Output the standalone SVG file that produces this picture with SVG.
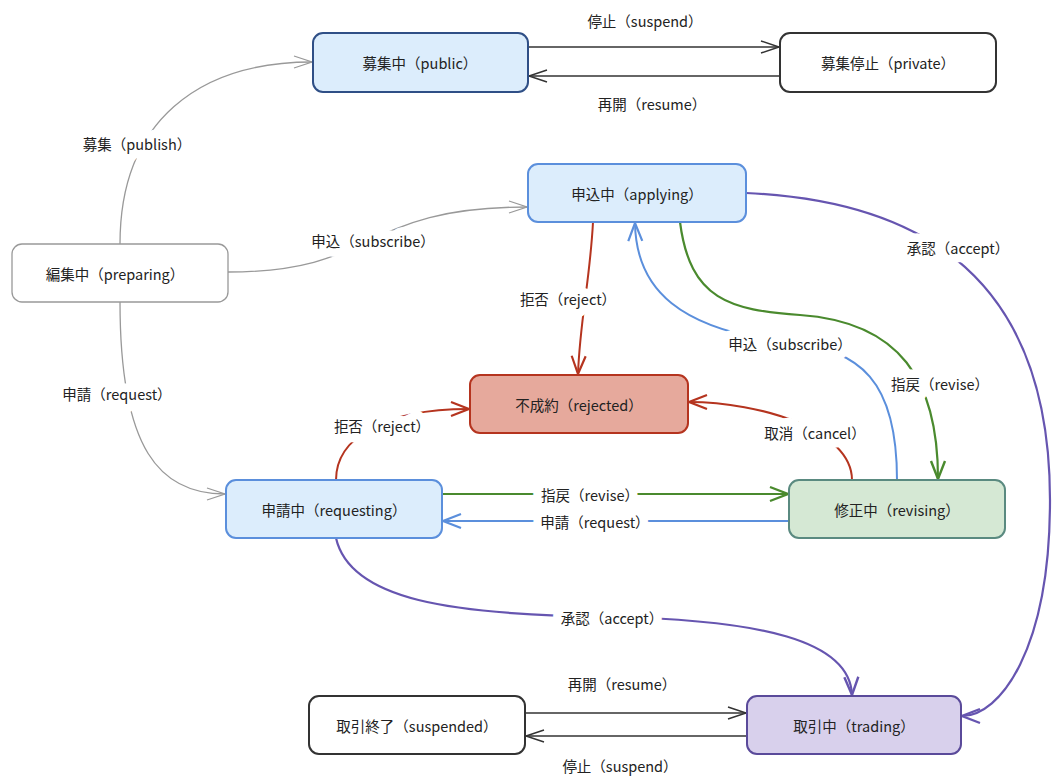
<svg xmlns="http://www.w3.org/2000/svg" width="1057" height="776" viewBox="0 0 1057 776">
<style>
text{font-family:"Noto Sans CJK JP","Noto Sans",sans-serif;font-size:14.5px;fill:#222;text-anchor:middle;dominant-baseline:central}
.lbl{paint-order:stroke;stroke:#fff;stroke-width:17px;stroke-linejoin:round}
.e{fill:none}
.g{stroke:#999;stroke-width:1.3}
.k{stroke:#333;stroke-width:1.5}
.r{stroke:#b5341f;stroke-width:2}
.b{stroke:#5b8fdc;stroke-width:2}
.gr{stroke:#4a8a2e;stroke-width:2.2}
.p{stroke:#6655b0;stroke-width:2.2}
rect{rx:10;ry:10}
</style>
<defs>
<marker id="ag" markerUnits="userSpaceOnUse" markerWidth="24" markerHeight="24" refX="20" refY="12" orient="auto"><path d="M2,6 L20,12 L2,18" fill="none" stroke="#999" stroke-width="1.3"/></marker>
<marker id="ak" markerUnits="userSpaceOnUse" markerWidth="24" markerHeight="24" refX="20" refY="12" orient="auto"><path d="M2,6 L20,12 L2,18" fill="none" stroke="#333" stroke-width="1.5"/></marker>
<marker id="ar" markerUnits="userSpaceOnUse" markerWidth="24" markerHeight="24" refX="20" refY="12" orient="auto"><path d="M2,5 L20,12 L2,19" fill="none" stroke="#b5341f" stroke-width="2.2"/></marker>
<marker id="ab" markerUnits="userSpaceOnUse" markerWidth="24" markerHeight="24" refX="20" refY="12" orient="auto"><path d="M2,5 L20,12 L2,19" fill="none" stroke="#5b8fdc" stroke-width="2.2"/></marker>
<marker id="agr" markerUnits="userSpaceOnUse" markerWidth="24" markerHeight="24" refX="20" refY="12" orient="auto"><path d="M2,5 L20,12 L2,19" fill="none" stroke="#4a8a2e" stroke-width="2.4"/></marker>
<marker id="ap" markerUnits="userSpaceOnUse" markerWidth="24" markerHeight="24" refX="20" refY="12" orient="auto"><path d="M2,5 L20,12 L2,19" fill="none" stroke="#6655b0" stroke-width="2.4"/></marker>
</defs>
<rect x="0" y="0" width="1057" height="776" fill="#fff" rx="0" ry="0"/>
<g id="connectors">
<path class="e g" d="M120,244 C120,120 200,62 312,62" marker-end="url(#ag)"/>
<path class="e g" d="M228,272 C380,272 360,207 527,207" marker-end="url(#ag)"/>
<path class="e g" d="M120,302 C120,450 160,494 225,494" marker-end="url(#ag)"/>
<path class="e k" d="M528,47 L779,47" marker-end="url(#ak)"/>
<path class="e k" d="M780,76 L529,76" marker-end="url(#ak)"/>
<path class="e r" d="M593,222 C590,280 580,320 578,374" marker-end="url(#ar)"/>
<path class="e b" d="M897,480 C897,380 860,350 790,343 C680,330 636,290 635,223" marker-end="url(#ab)"/>
<path class="e gr" d="M680,222 C690,300 730,310 800,315 C900,322 938,380 938,479" marker-end="url(#agr)"/>
<path class="e p" d="M746,193 C900,200 1050,260 1050,500 C1050,650 1000,716 962,716" marker-end="url(#ap)"/>
<path class="e r" d="M336,480 C336,440 380,409 469,409" marker-end="url(#ar)"/>
<path class="e r" d="M852,480 C852,430 760,402 689,402" marker-end="url(#ar)"/>
<path class="e gr" d="M442,494 L788,494" marker-end="url(#agr)"/>
<path class="e b" d="M789,521 L443,521" marker-end="url(#ab)"/>
<path class="e p" d="M336,538 C350,600 450,615 612,617 C760,620 850,640 852,695" marker-end="url(#ap)"/>
<path class="e k" d="M747,736 L526,736" marker-end="url(#ak)"/>
<path class="e k" d="M525,713 L746,713" marker-end="url(#ak)"/>
<text class="lbl" x="137" y="143">募集（publish）</text>
<text class="lbl" x="373" y="240">申込（subscribe）</text>
<text class="lbl" x="117" y="393">申請（request）</text>
<text class="lbl" x="645" y="20">停止（suspend）</text>
<text class="lbl" x="652" y="103">再開（resume）</text>
<text class="lbl" x="568" y="298">拒否（reject）</text>
<text class="lbl" x="790" y="343">申込（subscribe）</text>
<text class="lbl" x="940" y="383">指戻（revise）</text>
<text class="lbl" x="958" y="247">承認（accept）</text>
<text class="lbl" x="382" y="425">拒否（reject）</text>
<text class="lbl" x="815" y="432">取消（cancel）</text>
<text class="lbl" x="590" y="494">指戻（revise）</text>
<text class="lbl" x="595" y="521">申請（request）</text>
<text class="lbl" x="612" y="617">承認（accept）</text>
<text class="lbl" x="620" y="765">停止（suspend）</text>
<text class="lbl" x="622" y="683">再開（resume）</text>
</g>
<g id="public"><rect x="313" y="33" width="215" height="59" fill="#dcedfc" stroke="#2f4f86" stroke-width="2"/><text x="420" y="62">募集中（public）</text></g>
<g id="private"><rect x="780" y="33" width="216" height="59" fill="#fff" stroke="#333" stroke-width="2"/><text x="888" y="62">募集停止（private）</text></g>
<g id="applying"><rect x="528" y="164" width="218" height="58" fill="#dcedfc" stroke="#5b8fdc" stroke-width="2"/><text x="637" y="193">申込中（applying）</text></g>
<g id="preparing"><rect x="12" y="244" width="216" height="58" fill="#fff" stroke="#999" stroke-width="1.3"/><text x="115" y="273">編集中（preparing）</text></g>
<g id="rejected"><rect x="470" y="375" width="218" height="58" fill="#e6a99c" stroke="#b5341f" stroke-width="2"/><text x="579" y="404">不成約（rejected）</text></g>
<g id="requesting"><rect x="226" y="480" width="216" height="58" fill="#dcedfc" stroke="#5b8fdc" stroke-width="2"/><text x="334" y="509">申請中（requesting）</text></g>
<g id="revising"><rect x="789" y="480" width="216" height="58" fill="#d5e8d4" stroke="#5a8a80" stroke-width="2"/><text x="897" y="509">修正中（revising）</text></g>
<g id="suspended"><rect x="309" y="696" width="216" height="58" fill="#fff" stroke="#333" stroke-width="2"/><text x="417" y="725">取引終了（suspended）</text></g>
<g id="trading"><rect x="747" y="696" width="214" height="58" fill="#d8d0ec" stroke="#5a4a9a" stroke-width="2"/><text x="854" y="725">取引中（trading）</text></g>
</svg>
